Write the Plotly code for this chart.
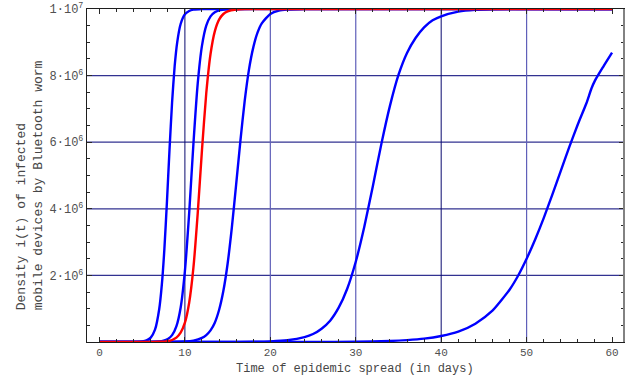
import plotly.graph_objects as go

# ---- data (values in millions of infected devices) ----
days_a = [0, 4, 5, 5.5, 6, 6.5, 7, 7.3, 7.6, 7.9, 8.2, 8.5, 8.8, 9.1, 9.5, 10, 10.5, 11, 12, 60]
dens_a = [0, 0.002, 0.017, 0.047, 0.133, 0.37, 1.0, 1.72, 2.8, 4.22, 5.78, 7.2, 8.28, 9.0, 9.55, 9.84, 9.94, 9.98, 10, 10]

days_b = [0, 6, 7, 7.5, 8, 8.5, 9, 9.5, 10, 10.5, 11, 11.5, 12, 12.5, 13, 13.5, 14, 15, 60]
dens_b = [0, 0.003, 0.016, 0.038, 0.089, 0.206, 0.47, 1.03, 2.13, 3.87, 5.96, 7.76, 8.9, 9.5, 9.78, 9.9, 9.96, 9.99, 10]

days_red = [0, 6, 7, 8, 8.5, 9, 9.5, 10, 10.5, 11, 11.5, 12, 12.5, 13, 13.5, 14, 14.5, 15, 16, 17, 60]
dens_red = [0, 0.001, 0.006, 0.028, 0.06, 0.13, 0.28, 0.58, 1.18, 2.24, 3.86, 5.77, 7.47, 8.65, 9.33, 9.68, 9.85, 9.93, 9.985, 10, 10]

days_d = [0, 8, 10, 11, 12, 12.5, 13, 13.5, 14, 14.5, 15, 15.5, 16, 16.5, 17, 17.5, 18, 18.5, 19, 20, 21, 22, 24, 60]
dens_d = [0, 0.002, 0.015, 0.042, 0.123, 0.208, 0.35, 0.58, 0.96, 1.53, 2.35, 3.45, 4.73, 6.05, 7.24, 8.18, 8.84, 9.29, 9.57, 9.85, 9.95, 9.98, 10, 10]

days_e = [0, 10, 15, 18, 20, 22, 24, 25, 26, 27, 28, 29, 30, 31, 32, 33, 34, 35, 36, 37, 38, 39, 40, 42, 44, 46, 50, 60]
dens_e = [0, 0, 0.0015, 0.007, 0.019, 0.053, 0.147, 0.24, 0.4, 0.64, 1.03, 1.6, 2.41, 3.46, 4.68, 5.95, 7.09, 8.02, 8.68, 9.13, 9.45, 9.66, 9.78, 9.92, 9.975, 9.99, 10, 10]

days_f = [0, 10, 20, 25, 30, 34, 36, 38, 40, 42, 44, 46, 48, 49, 50, 51, 52, 53, 54, 55, 56, 57, 57.6, 58, 59, 60]
dens_f = [0, 0, 0.0006, 0.0024, 0.01, 0.032, 0.057, 0.1, 0.18, 0.31, 0.55, 0.94, 1.57, 1.99, 2.5, 3.08, 3.72, 4.42, 5.14, 5.86, 6.54, 7.17, 7.62, 7.85, 8.28, 8.69]

x_ticks = [0, 10, 20, 30, 40, 50, 60]
y_ticks = [2e6, 4e6, 6e6, 8e6, 1e7]
y_tick_text = ["2·10<sup>6</sup>", "4·10<sup>6</sup>", "6·10<sup>6</sup>", "8·10<sup>6</sup>", "1·10<sup>7</sup>"]
h_grid = [2e6, 4e6, 6e6, 8e6]
v_grid_blue = [20, 30, 50]
v_grid_dark = [10, 40]

MILLION = 1e6
FONT = "Liberation Mono, Courier New, monospace"

fig = go.Figure()

# gridlines
for g in h_grid:
    fig.add_shape(type="line", xref="paper", yref="y", x0=0, x1=1, y0=g, y1=g,
                  line=dict(color="rgb(50,50,145)", width=1.3), layer="below")
for g in v_grid_blue:
    fig.add_shape(type="line", xref="x", yref="paper", x0=g, x1=g, y0=0, y1=1,
                  line=dict(color="rgb(95,95,185)", width=1.2), layer="below")
for g in v_grid_dark:
    fig.add_shape(type="line", xref="x", yref="paper", x0=g, x1=g, y0=0, y1=1,
                  line=dict(color="rgb(10,10,110)", width=1), layer="below")

series = [
    (days_f, dens_f, "blue"),
    (days_e, dens_e, "blue"),
    (days_d, dens_d, "blue"),
    (days_b, dens_b, "blue"),
    (days_a, dens_a, "blue"),
    (days_red, dens_red, "red"),
]
for xs, ys, col in series:
    fig.add_trace(go.Scatter(x=xs, y=[v * MILLION for v in ys], mode="lines",
                             line=dict(color=col, width=2.4, shape="spline", smoothing=0.6),
                             hoverinfo="skip", showlegend=False, cliponaxis=True))

# right frame (gray)
fig.add_shape(type="line", xref="paper", yref="paper", x0=1, x1=1, y0=0, y1=1,
              line=dict(color="rgb(130,130,130)", width=2))

fig.update_layout(
    width=632, height=376,
    margin=dict(l=87, r=8, t=9, b=34, autoexpand=False),
    paper_bgcolor="white", plot_bgcolor="white",
    font=dict(family=FONT, size=11, color="rgb(80,80,80)"),
    xaxis=dict(range=[-1.46, 61.4], tickmode="array", tickvals=x_ticks, automargin=False,
               ticks="inside", ticklen=5, tickcolor="rgb(40,40,40)",
               showline=True, linecolor="rgb(30,30,30)", linewidth=1.2, mirror="allticks",
               showgrid=False, zeroline=False,
               minor=dict(tickmode="linear", tick0=0, dtick=2, ticks="inside", ticklen=3,
                          tickcolor="rgb(40,40,40)", showgrid=False),
               tickfont=dict(family=FONT, size=11, color="rgb(80,80,80)")),
    yaxis=dict(range=[0, 1e7], tickmode="array", tickvals=y_ticks, ticktext=y_tick_text,
               automargin=False,
               ticks="inside", ticklen=5, tickcolor="rgb(40,40,40)",
               showline=True, linecolor="rgb(30,30,30)", linewidth=1.2, mirror="allticks",
               showgrid=False, zeroline=False,
               minor=dict(tickmode="linear", tick0=0, dtick=5e5, ticks="inside", ticklen=3,
                          tickcolor="rgb(40,40,40)", showgrid=False),
               tickfont=dict(family=FONT, size=12, color="rgb(80,80,80)")),
)

fig.add_annotation(text="Time of epidemic spread (in days)", xref="paper", yref="paper",
                   x=0.499, y=-0.081, xanchor="center", yanchor="middle", showarrow=False,
                   font=dict(family=FONT, size=12, color="rgb(70,70,70)"))
fig.add_annotation(text="Density i(t) of infected<br>mobile devices by Bluetooth worm",
                   xref="paper", yref="paper", x=-0.106, y=0.471, xanchor="center",
                   yanchor="middle", textangle=-90, align="left", showarrow=False,
                   font=dict(family=FONT, size=13, color="rgb(70,70,70)"))

fig.write_html("out.html", config={"displayModeBar": False, "staticPlot": True},
               post_script="document.body.style.margin='0';document.body.style.overflow='hidden';")
